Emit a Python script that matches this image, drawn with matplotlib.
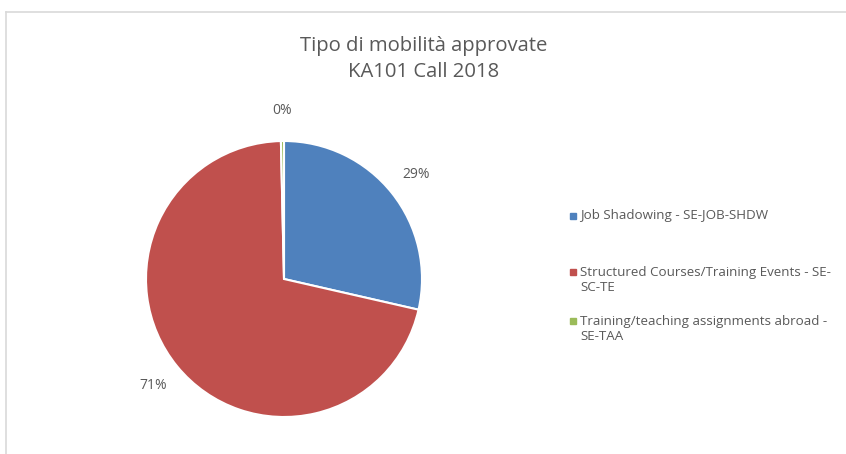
import matplotlib
matplotlib.use("Agg")
import matplotlib.pyplot as plt
from matplotlib.patches import Rectangle
from matplotlib.lines import Line2D

title = "Tipo di mobilità approvate\nKA101 Call 2018"
labels = [
    "Job Shadowing - SE-JOB-SHDW",
    "Structured Courses/Training Events - SE-\nSC-TE",
    "Training/teaching assignments abroad -\nSE-TAA",
]
counts = [80, 199, 1]
colors = ["#4F81BD", "#C0504D", "#9BBB59"]

plt.rcParams["font.family"] = ["Open Sans", "DejaVu Sans"]

W, H = 846, 454
fig = plt.figure(figsize=(W / 100, H / 100), dpi=100)

# chart border (only top and left visible)
fig.add_artist(Line2D([6 / W, 6 / W], [0, 1 - 12 / H], color="#d9d9d9", lw=1.2))
fig.add_artist(Line2D([6 / W, 1], [1 - 12 / H, 1 - 12 / H], color="#d9d9d9", lw=1.2))

cx, cy, r = 284, 279, 138
ax = fig.add_axes([(cx - r) / W, (H - cy - r) / H, 2 * r / W, 2 * r / H])
wedges, texts, autotexts = ax.pie(
    counts, colors=colors, startangle=90, counterclock=False,
    autopct=lambda p: f"{p:.0f}%", pctdistance=1.22,
    wedgeprops=dict(edgecolor="white", linewidth=1.5),
    textprops=dict(color="#595959", fontsize=10),
)
ax.set_xlim(-1, 1)
ax.set_ylim(-1, 1)
ax.set_aspect("equal")

fig.text(424 / W, 1 - 59 / H, title, ha="center", va="center",
         fontsize=14.6, color="#595959", linespacing=1.4)

# legend drawn by hand to match the spacing of the original
rows = [216, 280, 329]
for lab, col, y in zip(labels, colors, rows):
    nl = lab.count("\n")
    top = y - nl * 8
    fig.add_artist(Rectangle((570 / W, 1 - (top + 3) / H), 6 / W, 6 / H,
                             color=col, transform=fig.transFigure))
    fig.text(580 / W, 1 - y / H, lab, ha="left", va="center",
             fontsize=9.6, color="#595959", linespacing=1.2)

fig.savefig("out.png", dpi=100)
